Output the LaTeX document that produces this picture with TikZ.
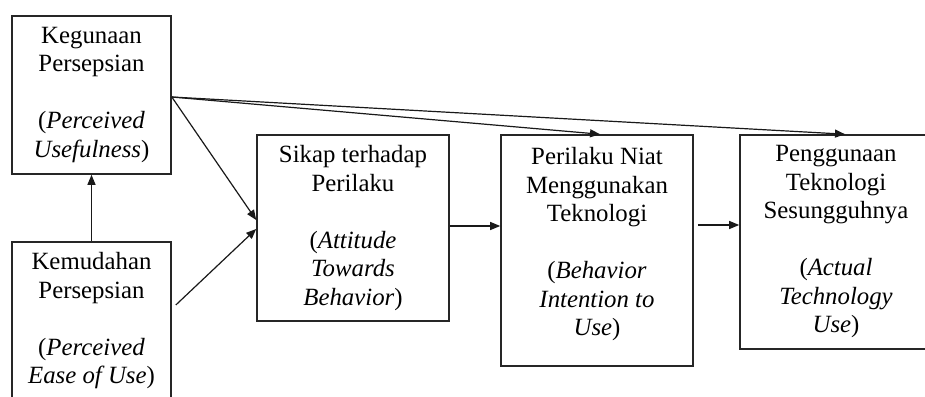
\documentclass[tikz,border=0pt]{standalone}
\usepackage{fontspec}
\setmainfont{Liberation Serif}
\usetikzlibrary{arrows.meta,calc}
\begin{document}
\begin{tikzpicture}[x=1pt,y=-1pt,
  box/.style={draw=black!85, line width=1.6pt, inner sep=0pt, align=center,
    font=\fontsize{24.8}{28.5}\selectfont},
  txt/.style={inner sep=0pt, align=center, font=\fontsize{24.8}{28.5}\selectfont},
  arr/.style={draw=black!90, line width=1.2pt, -{Triangle[length=10pt,width=8pt]}}]
\useasboundingbox (0,0) rectangle (925,396);
\clip (0,0) rectangle (925,396);
\node[box, minimum width=159pt, minimum height=158pt] (A) at (91.5,95)
  {Kegunaan\\Persepsian\\[28.5pt](\textit{Perceived}\\\textit{Usefulness})};
\node[box, minimum width=159pt, minimum height=158pt] (B) at (91.5,321)
  {Kemudahan\\Persepsian\\[28.5pt](\textit{Perceived}\\\textit{Ease of Use})};
\node[box, minimum width=192pt, minimum height=186pt] (C) at (353,228)
  {Sikap terhadap\\Perilaku\\[28.5pt](\textit{Attitude}\\\textit{Towards}\\\textit{Behavior})};
\node[box, minimum width=192pt, minimum height=231pt] (D) at (597,250.5) {};
\node[txt] (Dt) at ($(D.center)+(0,-6)$)
  {Perilaku Niat\\Menggunakan\\Teknologi\\[28.5pt](\textit{Behavior}\\\textit{Intention to}\\\textit{Use})};
\node[box, minimum width=192pt, minimum height=214pt] (E) at (836,242)
  {Penggunaan\\Teknologi\\Sesungguhnya\\[28.5pt](\textit{Actual}\\\textit{Technology}\\\textit{Use})};
% connectors
\draw[arr] (B.north) -- (A.south);
\coordinate (As) at ($(A.east)+(0,2)$);
\draw[arr] (As) -- ($(C.west)+(0,-8)$);
\draw[arr] ($(B.east)+(4,-16)$) -- ($(C.west)+(0,1)$);
\draw[arr] (As) -- ($(D.north)+(3,0)$);
\draw[arr] (As) -- ($(E.north)+(9,0)$);
\coordinate (Cs) at ($(C.east)+(0,-2)$);
\draw[arr] (Cs) -- (Cs -| D.west);
\coordinate (Ds) at ($(D.east)+(4,-25.5)$);
\draw[arr] (Ds) -- (Ds -| E.west);
\end{tikzpicture}
\end{document}
